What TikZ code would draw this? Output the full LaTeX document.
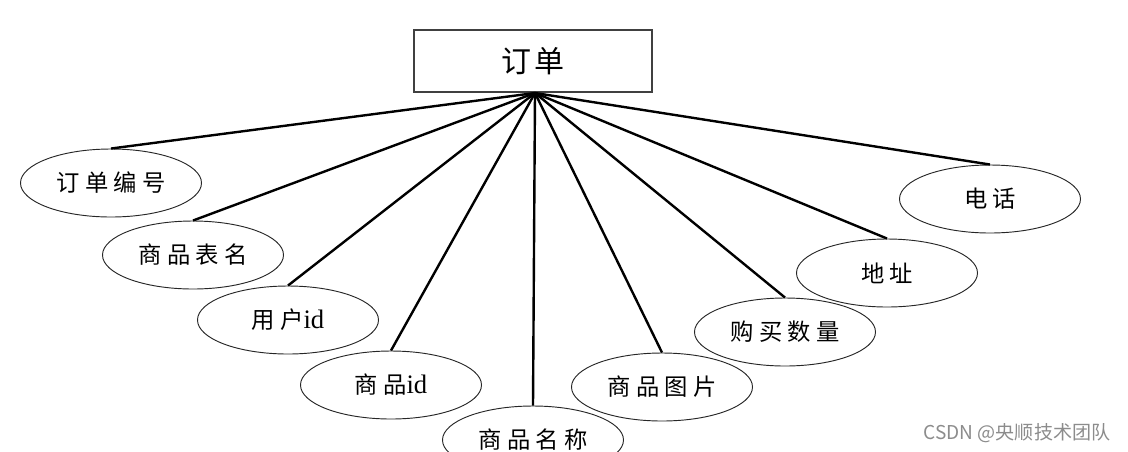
\documentclass[tikz,border=0pt]{standalone}
\usepackage{fontspec}
\setmainfont{Liberation Serif}
\newfontfamily\cjk{Noto Sans CJK SC}[LetterSpace=22]
\newfontfamily\cjktitle{Noto Sans CJK SC}[LetterSpace=10]
\newfontfamily\wmfont{Noto Sans CJK SC}
\usetikzlibrary{shapes.geometric}
\tikzset{
  attr/.style={ellipse, draw=black!85, line width=0.7pt, minimum width=135.75pt, minimum height=51pt, inner sep=0pt, font=\fontsize{17.5}{19}\selectfont},
  entity/.style={rectangle, draw=black!75, line width=1pt, minimum width=178.5pt, minimum height=46.5pt, inner sep=0pt, font=\fontsize{22.5}{24}\cjktitle},
  link/.style={line width=1.8pt, black}
}
\begin{document}
\begin{tikzpicture}[x=0.75pt, y=-0.75pt]
\useasboundingbox (0,0) rectangle (1128,451);
\clip (0,0) rectangle (1128,451);
\node[entity] (order) at (533,61) {订单};
\coordinate (hub) at (535,93);
\node[attr] (a1) at (111,183) {\cjk 订单编号};
\node[attr] (a2) at (193,255) {\cjk 商品表名};
\node[attr] (a3) at (288,320) {{\cjk 用户}\fontsize{20}{22}\selectfont id};
\node[attr] (a4) at (391,385) {{\cjk 商品}\fontsize{20}{22}\selectfont id};
\node[attr] (a5) at (533,440) {\cjk 商品名称};
\node[attr] (a6) at (662,387) {\cjk 商品图片};
\node[attr] (a7) at (785,332) {\cjk 购买数量};
\node[attr] (a8) at (887,273) {\cjk 地址};
\node[attr] (a9) at (990,199) {\cjk 电话};
\foreach \n in {a1,a2,a3,a4,a5,a6,a7,a8,a9}
  \draw[link] (hub) -- (\n.north);
\node[text=black!45, font=\fontsize{14.3}{16}\wmfont, inner sep=0pt] (wm) at (1017,433) {CSDN @央顺技术团队};
\end{tikzpicture}
\end{document}
